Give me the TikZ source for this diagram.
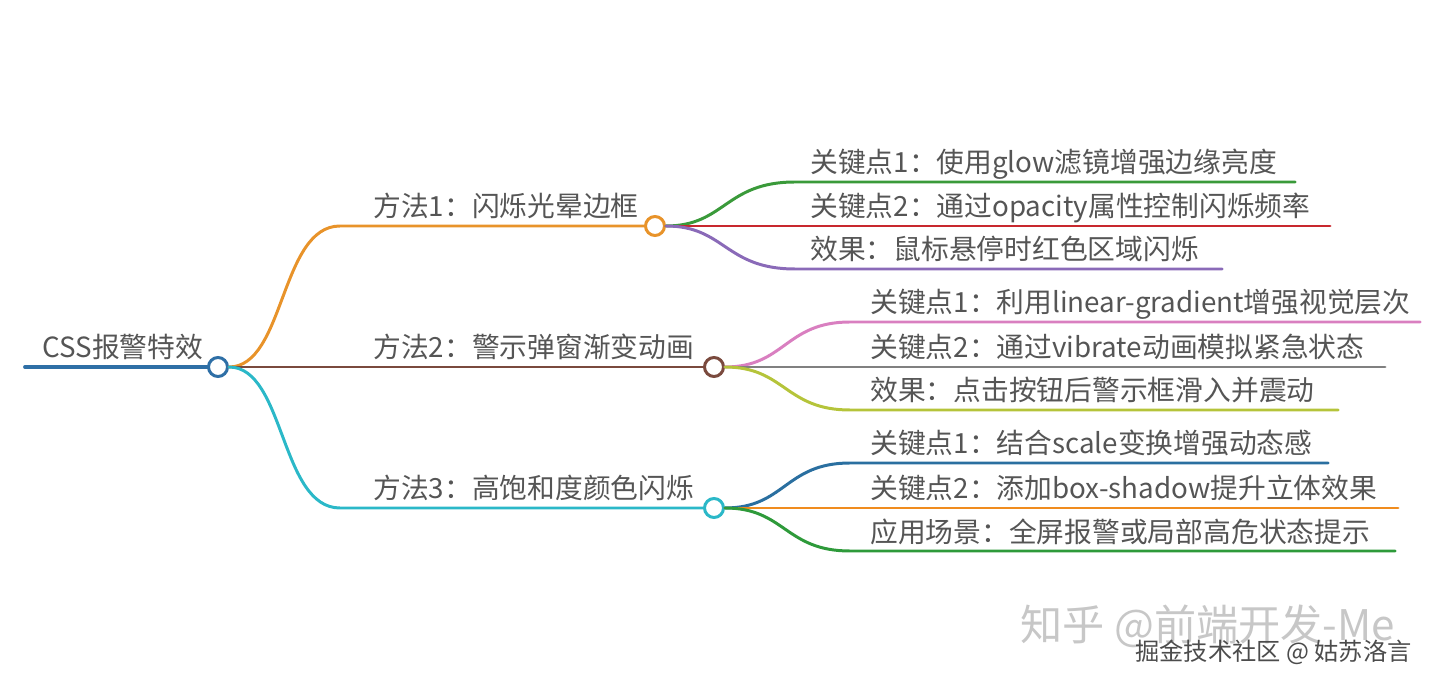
\documentclass[tikz,border=0pt]{standalone}
\usepackage{fontspec}
\setmainfont{Noto Sans CJK SC}
\usetikzlibrary{positioning,calc}
\definecolor{txtgray}{RGB}{85,85,85}
\definecolor{rootblue}{RGB}{46,111,166}
\definecolor{orangeA}{RGB}{232,147,42}
\definecolor{brownB}{RGB}{122,74,62}
\definecolor{cyanC}{RGB}{43,184,200}
\definecolor{greenA}{RGB}{58,154,58}
\definecolor{redA}{RGB}{200,40,46}
\definecolor{purpleA}{RGB}{138,106,184}
\definecolor{pinkB}{RGB}{217,127,192}
\definecolor{grayB}{RGB}{128,128,128}
\definecolor{limeB}{RGB}{181,196,58}
\definecolor{blueC}{RGB}{42,111,160}
\definecolor{orangeC}{RGB}{240,140,30}
\definecolor{greenC}{RGB}{46,154,58}

\begin{document}
\begin{tikzpicture}[x=0.02cm, y=-0.02cm,
        hub/.style={circle, draw, line width=1.7pt, fill=white, minimum size=0.38cm, inner sep=0pt},
        label/.style={anchor=base west, inner sep=0pt, font=\fontsize{15.8}{18}\selectfont, text=txtgray},
        branch/.style={line width=1.7pt, line cap=round}]

        \useasboundingbox (0,0) rectangle (1440,685);

        % watermarks
        \node[anchor=base west, inner sep=0pt, font=\fontsize{24}{28}\selectfont, text=black!22] (wmA) at (1020,640) {知乎 @前端开发-Me};
        \node[anchor=base west, inner sep=0pt, font=\fontsize{13.8}{16}\selectfont, text=black!70] (wmB) at (1135,660) {掘金技术社区 @ 姑苏洛言};

        % line ends
        \coordinate (start) at (25,367);
        \coordinate (m1a) at (340,226);
        \coordinate (m3a) at (340,508);
        \coordinate (k11a) at (795,182);  \coordinate (k11b) at (1295,182);
        \coordinate (k12b) at (1330,226);
        \coordinate (k13a) at (795,269);  \coordinate (k13b) at (1222,269);
        \coordinate (k21a) at (850,322);  \coordinate (k21b) at (1420,322);
        \coordinate (k22b) at (1385,367);
        \coordinate (k23a) at (850,410);  \coordinate (k23b) at (1338,410);
        \coordinate (k31a) at (850,463);  \coordinate (k31b) at (1328,463);
        \coordinate (k32b) at (1398,508);
        \coordinate (k33a) at (850,551);  \coordinate (k33b) at (1395,551);

        % hubs
        \node[hub, draw=rootblue] (root) at (218,367) {};
        \node[hub, draw=orangeA] (m1) at (655,226) {};
        \node[hub, draw=brownB] (m2) at (714,367) {};
        \node[hub, draw=cyanC] (m3) at (714,508) {};

        % texts
        \node[label] (tRoot) at (42,358) {CSS报警特效};
        \node[label] (tM1) at (373,217) {方法1：闪烁光晕边框};
        \node[label] (tM2) at (373,358) {方法2：警示弹窗渐变动画};
        \node[label] (tM3) at (373,499) {方法3：高饱和度颜色闪烁};
        \node[label] (t11) at (810,173) {关键点1：使用glow滤镜增强边缘亮度};
        \node[label] (t12) at (810,217) {关键点2：通过opacity属性控制闪烁频率};
        \node[label] (t13) at (810,260) {效果：鼠标悬停时红色区域闪烁};
        \node[label] (t21) at (870,313) {关键点1：利用linear-gradient增强视觉层次};
        \node[label] (t22) at (870,358) {关键点2：通过vibrate动画模拟紧急状态};
        \node[label] (t23) at (870,401) {效果：点击按钮后警示框滑入并震动};
        \node[label] (t31) at (870,454) {关键点1：结合scale变换增强动态感};
        \node[label] (t32) at (870,499) {关键点2：添加box-shadow提升立体效果};
        \node[label] (t33) at (870,542) {应用场景：全屏报警或局部高危状态提示};

        % root branches
        \draw[branch, rootblue, line width=2.2pt] (start) -- (root.west);
        \draw[branch, orangeA] (root.east) .. controls (285,367) and (280,226) .. (m1a) -- (m1.west);
        \draw[branch, brownB] (root.east) -- (m2.west);
        \draw[branch, cyanC] (root.east) .. controls (285,367) and (280,508) .. (m3a) -- (m3.west);

        % method 1
        \draw[branch, greenA] (m1.east) .. controls (725,226) and (725,182) .. (k11a) -- (k11b);
        \draw[branch, redA] (m1.east) -- (k12b);
        \draw[branch, purpleA] (m1.east) .. controls (725,226) and (725,269) .. (k13a) -- (k13b);

        % method 2
        \draw[branch, pinkB] (m2.east) .. controls (785,367) and (785,322) .. (k21a) -- (k21b);
        \draw[branch, grayB] (m2.east) -- (k22b);
        \draw[branch, limeB] (m2.east) .. controls (785,367) and (785,410) .. (k23a) -- (k23b);

        % method 3
        \draw[branch, blueC] (m3.east) .. controls (785,508) and (785,463) .. (k31a) -- (k31b);
        \draw[branch, orangeC] (m3.east) -- (k32b);
        \draw[branch, greenC] (m3.east) .. controls (785,508) and (785,551) .. (k33a) -- (k33b);

    \end{tikzpicture}
\end{document}
